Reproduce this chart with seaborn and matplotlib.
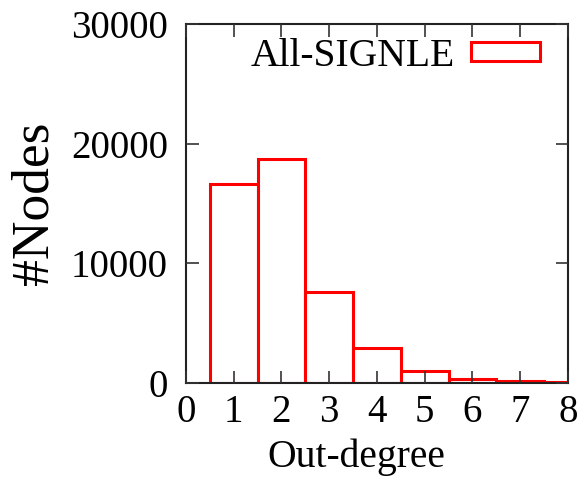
import matplotlib
matplotlib.use("Agg")
import matplotlib.pyplot as plt
import matplotlib.patches as mpatches
import seaborn as sns
import pandas as pd

# Out-degree distribution (number of nodes per out-degree)
out_degree = [1, 2, 3, 4, 5, 6, 7, 8]
num_nodes = [16600, 18700, 7600, 2900, 950, 350, 150, 80]
series_label = "All-SIGNLE"
x_ticks = [0, 1, 2, 3, 4, 5, 6, 7, 8]
y_ticks = [0, 10000, 20000, 30000]

sns.set_theme(style="white")
plt.rcParams["font.family"] = ["Liberation Serif", "DejaVu Serif"]
plt.rcParams["text.color"] = "black"

df = pd.DataFrame({"degree": out_degree, "nodes": num_nodes})

fig = plt.figure(figsize=(5.83, 4.80), dpi=100)
ax = fig.add_axes([0.319, 0.2027, 0.655, 0.7466])

sns.histplot(data=df, x="degree", weights="nodes", discrete=True,
             color="white", edgecolor="#ff0000", linewidth=2.2,
             alpha=1.0, ax=ax, zorder=2)

ax.set_xlim(0, 8)
ax.set_ylim(0, 30000)
ax.set_xticks(x_ticks)
ax.set_yticks(y_ticks)
ax.set_xticklabels([str(v) for v in x_ticks])
ax.set_yticklabels([str(v) for v in y_ticks])

ax.tick_params(axis="both", which="major", direction="in", length=9,
               width=1.2, color="#333333", labelsize=28,
               top=True, right=True, bottom=True, left=True,
               labelcolor="black")
ax.tick_params(axis="x", pad=8)
ax.tick_params(axis="y", pad=13)
for side in ("left", "right", "top", "bottom"):
    ax.spines[side].set_visible(True)
    ax.spines[side].set_color("#222222")
    ax.spines[side].set_linewidth(1.5)
ax.set_axisbelow(False)

ax.set_xlabel("Out-degree", fontsize=28.5, labelpad=6, color="black")
ax.xaxis.set_label_coords(0.445, -0.155)
ax.set_ylabel("#Nodes", fontsize=38.5, labelpad=9, color="black")

handle = mpatches.Patch(facecolor="white", edgecolor="#ff0000",
                        linewidth=2.2, label=series_label)
leg = ax.legend(handles=[handle], loc="upper right", frameon=False,
                markerfirst=False, fontsize=28.5, handlelength=1.75,
                handleheight=0.36, handletextpad=0.4,
                bbox_to_anchor=(0.968, 1.007), borderaxespad=0.0)
for t in leg.get_texts():
    t.set_color("black")

fig.savefig("out.png", dpi=100, facecolor="white")
